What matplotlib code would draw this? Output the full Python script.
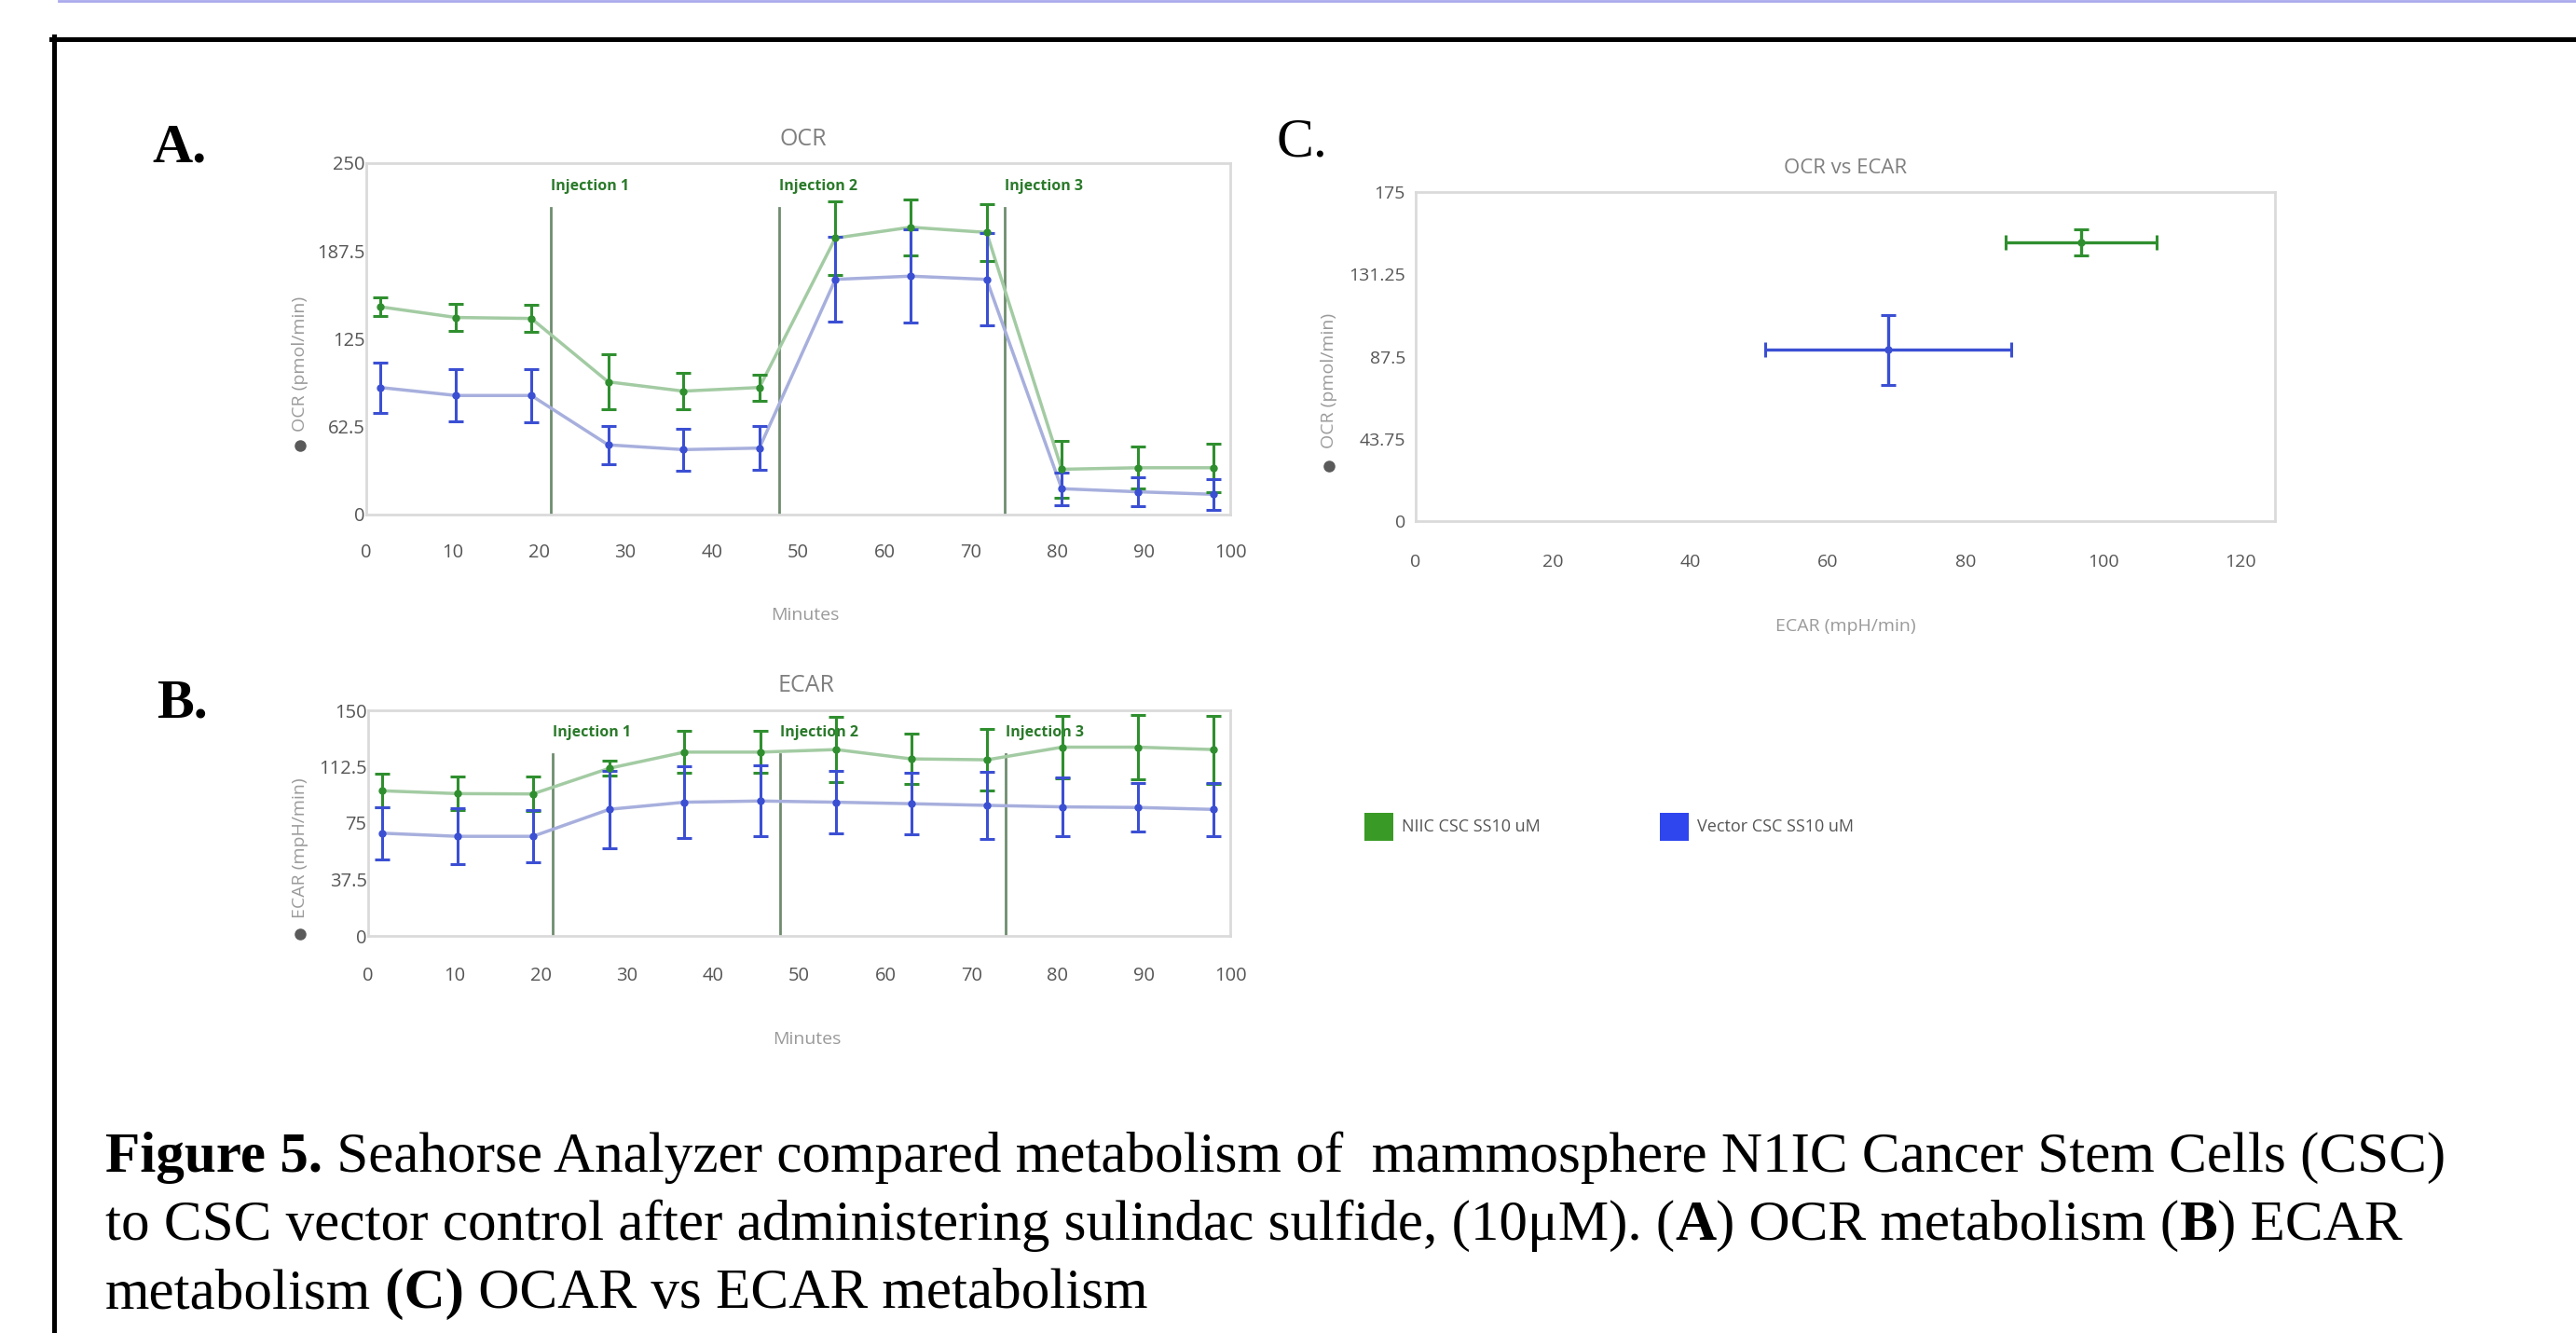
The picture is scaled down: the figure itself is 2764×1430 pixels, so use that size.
import numpy as np
import matplotlib.pyplot as plt
from matplotlib.lines import Line2D
from matplotlib.patches import Rectangle
import matplotlib.transforms as mtransforms

W, H = 2764, 1430

# --- data ---
minutes = [1.6, 10.4, 19.1, 28.0, 36.7, 45.5, 54.3, 63.0, 71.8, 80.5, 89.3, 98.1]
injections = [21.4, 47.8, 73.9]
injection_labels = ["Injection 1", "Injection 2", "Injection 3"]
series_names = ["NIIC CSC SS10 uM", "Vector CSC SS10 uM"]

ocr_niic = [147.8, 140.2, 139.5, 94.4, 87.8, 90.4, 196.7, 204.4, 200.7, 32.2, 33.3, 33.3]
ocr_niic_err = [6.7, 9.4, 9.6, 19.7, 13.0, 9.2, 26.0, 20.0, 20.0, 20.0, 15.0, 17.4]
ocr_vector = [90.4, 84.7, 84.7, 49.6, 46.2, 47.3, 167.3, 169.6, 167.3, 18.4, 16.2, 14.4]
ocr_vector_err = [17.8, 18.6, 19.0, 13.5, 15.0, 15.5, 30.0, 33.0, 33.0, 11.5, 10.0, 11.0]

ecar_niic = [96.5, 94.6, 94.4, 111.5, 122.2, 122.2, 123.9, 117.7, 117.1, 125.5, 125.5, 123.9]
ecar_niic_err = [11.2, 11.1, 11.3, 5.1, 14.0, 14.0, 21.5, 16.5, 20.6, 21.0, 21.6, 22.6]
ecar_vector = [68.3, 66.2, 66.2, 84.2, 88.9, 89.7, 88.9, 87.9, 86.8, 85.8, 85.4, 84.1]
ecar_vector_err = [17.5, 18.5, 17.3, 25.8, 24.0, 23.5, 20.6, 20.6, 22.6, 19.6, 16.0, 17.5]

# OCR vs ECAR summary points (x = ECAR, y = OCR)
cmp_ecar = [96.8, 68.7]
cmp_ecar_err = [11.0, 17.9]
cmp_ocr = [148.4, 91.0]
cmp_ocr_err = [7.0, 18.4]

ocr_ticks = [0, 62.5, 125, 187.5, 250]
ecar_ticks = [0, 37.5, 75, 112.5, 150]
cmp_yticks = [0, 43.75, 87.5, 131.25, 175]
minute_ticks = list(range(0, 101, 10))
cmp_xticks = list(range(0, 121, 20))

# caption pieces: (text, bold)
caption_1 = [("Figure 5.", True),
             (" Seahorse Analyzer compared metabolism of  mammosphere N1IC Cancer Stem Cells (CSC)", False)]
caption_2 = [("to CSC vector control after administering sulindac sulfide, (10μM). (", False),
             ("A", True), (") OCR metabolism (", False), ("B", True), (") ECAR", False)]
caption_3 = [("metabolism", False), (" (C)", True), (" OCAR vs ECAR metabolism", False)]

# --- styling ---
strong = ["#2f8f2f", "#3b4fd3"]
pale = ["#a3cba3", "#a7afdd"]
legend_cols = ["#3a9a26", "#2f45ee"]
grey_tick = "#555555"
grey_label = "#9a9a9a"
grey_title = "#7f7f7f"
serif = "Liberation Serif"

plt.rcParams["font.family"] = ["Open Sans", "DejaVu Sans"]


def fx(px):
    return px / W


def fy(py):
    return 1 - py / H


fig = plt.figure(figsize=(W / 100, H / 100), dpi=100)
fig.patch.set_facecolor("white")
renderer = fig.canvas.get_renderer()


def make_axes(x0, y0, x1, y1):
    ax = fig.add_axes([fx(x0), fy(y1), fx(x1) - fx(x0), fy(y0) - fy(y1)])
    for s in ax.spines.values():
        s.set_color("#dadada")
        s.set_linewidth(2)
    ax.tick_params(length=0, labelsize=14.5, colors=grey_tick)
    return ax


def ylabel_with_dot(x, ytxt, ydot, text):
    fig.text(fx(x), fy(ytxt), text, rotation=90, ha="center", va="center",
             color=grey_label, fontsize=14)
    fig.add_artist(Line2D([fx(x)], [fy(ydot)], marker="o", ms=8, color="#5a5a5a",
                          transform=fig.transFigure))


def rich_line(px, py, pieces, size):
    x = fx(px)
    for txt, bold in pieces:
        t = fig.text(x, fy(py), txt, fontsize=size, family=serif, va="baseline",
                     fontweight="bold" if bold else "normal", color="black")
        x = t.get_window_extent(renderer).x1 / fig.bbox.width


def time_panel(ax, niic, niic_err, vec, vec_err, ymax, yticks, line_top, label_y, pad):
    ax.set_xlim(0, 100)
    ax.set_ylim(0, ymax)
    ax.set_xticks(minute_ticks)
    ax.set_yticks(yticks)
    ax.set_yticklabels([("%g" % v) for v in yticks])
    ax.tick_params(axis="x", pad=pad)
    ax.tick_params(axis="y", pad=1)
    trans = mtransforms.blended_transform_factory(ax.transData, ax.transAxes)
    for xi, lab in zip(injections, injection_labels):
        ax.axvline(xi, ymin=0, ymax=line_top, color="#6f8c6f", lw=2, zorder=1)
        ax.text(xi, label_y, lab, transform=trans, ha="left", va="center",
                fontsize=11.5, fontweight="bold", color="#2a7a2a")
    for vals, errs, c1, c2 in [(niic, niic_err, strong[0], pale[0]),
                               (vec, vec_err, strong[1], pale[1])]:
        ax.plot(minutes, vals, color=c2, lw=2.5, zorder=2)
        ax.errorbar(minutes, vals, yerr=errs, fmt="o", color=c1, ms=5,
                    elinewidth=2.2, capsize=6, capthick=2.2, zorder=3)


# frame lines
fig.add_artist(Line2D([fx(63), 1], [fy(1), fy(1)], color="#a9a9ec", lw=2))
fig.add_artist(Line2D([fx(55), 1], [fy(41.5), fy(41.5)], color="black", lw=3.6))
fig.add_artist(Line2D([fx(57.5), fx(57.5)], [fy(39), 0], color="black", lw=3.6))

# panel A: OCR
axA = make_axes(393, 175, 1320, 552)
time_panel(axA, ocr_niic, ocr_niic_err, ocr_vector, ocr_vector_err,
           250, ocr_ticks, 0.873, 0.934, 22)
fig.text(fx(862), fy(150), "OCR", ha="center", va="center", fontsize=18, color=grey_title)
fig.text(fx(864), fy(660), "Minutes", ha="center", va="center", fontsize=14, color=grey_label)
ylabel_with_dot(322, 390, 478, "OCR (pmol/min)")

# panel B: ECAR
axB = make_axes(395, 762, 1320, 1004)
time_panel(axB, ecar_niic, ecar_niic_err, ecar_vector, ecar_vector_err,
           150, ecar_ticks, 0.806, 0.90, 24)
fig.text(fx(865), fy(735), "ECAR", ha="center", va="center", fontsize=18, color=grey_title)
fig.text(fx(866), fy(1115), "Minutes", ha="center", va="center", fontsize=14, color=grey_label)
ylabel_with_dot(322, 910, 1002, "ECAR (mpH/min)")

# panel C: OCR vs ECAR
axC = make_axes(1519, 206, 2441, 559)
axC.set_xlim(0, 125)
axC.set_ylim(0, 175)
axC.set_xticks(cmp_xticks)
axC.set_yticks(cmp_yticks)
axC.set_yticklabels([("%g" % v) for v in cmp_yticks])
axC.tick_params(axis="x", pad=25, labelsize=14)
axC.tick_params(axis="y", pad=8, labelsize=14)
for i in range(2):
    axC.errorbar(cmp_ecar[i], cmp_ocr[i], xerr=cmp_ecar_err[i], yerr=cmp_ocr_err[i],
                 fmt="o", color=strong[i], ms=5, elinewidth=2.4, capsize=6, capthick=2.2)
fig.text(fx(1980), fy(180), "OCR vs ECAR", ha="center", va="center", fontsize=16, color=grey_title)
fig.text(fx(1980), fy(672), "ECAR (mpH/min)", ha="center", va="center", fontsize=14, color=grey_label)
ylabel_with_dot(1426, 408, 500, "OCR (pmol/min)")

# legend
legend_x = [1464, 1781]
for name, col, x0 in zip(series_names, legend_cols, legend_x):
    fig.add_artist(Rectangle((fx(x0), fy(902)), fx(31), 30 / H, facecolor=col,
                             edgecolor="none", transform=fig.transFigure))
    fig.text(fx(x0 + 40), fy(887), name, ha="left", va="center", fontsize=13, color="#555555")

# panel letters
fig.text(fx(163), fy(173), "A.", fontsize=43, fontweight="bold", family=serif, va="baseline")
fig.text(fx(168), fy(770), "B.", fontsize=43, fontweight="bold", family=serif, va="baseline")
fig.text(fx(1370), fy(167), "C.", fontsize=43, family=serif, va="baseline")

# caption
for pieces, base in zip([caption_1, caption_2, caption_3], [1257, 1330, 1403]):
    rich_line(113, base, pieces, 44)

fig.savefig("out.png", dpi=100)
